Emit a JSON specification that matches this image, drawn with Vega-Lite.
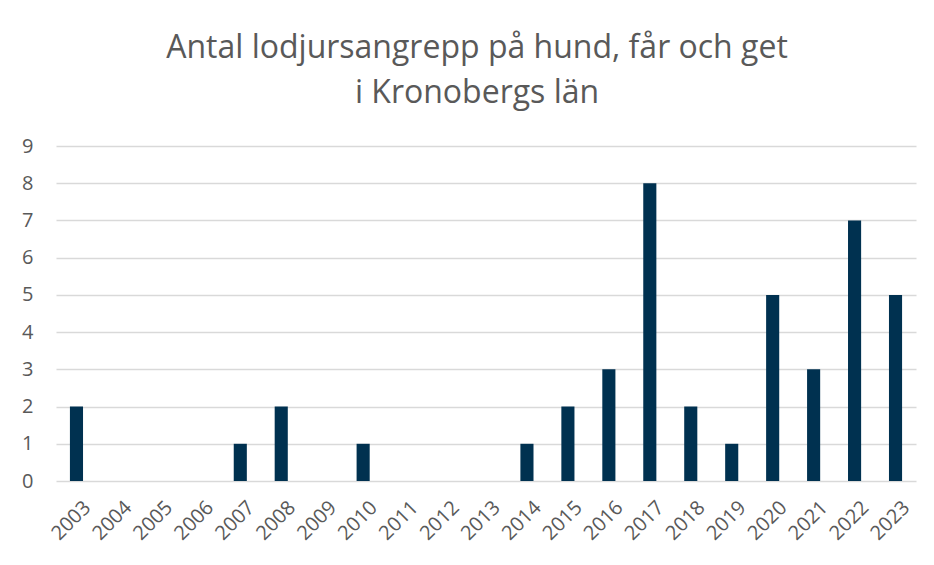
{
  "$schema": "https://vega.github.io/schema/vega-lite/v6.json",
  "width": 860,
  "height": 335,
  "autosize": {"type": "none"},
  "padding": {"left": 56, "top": 146, "right": 18, "bottom": 84},
  "background": "white",
  "title": {
    "text": ["Antal lodjursangrepp på hund, får och get", "i Kronobergs län"],
    "font": "Open Sans",
    "fontSize": 32,
    "fontWeight": "normal",
    "color": "#595959",
    "lineHeight": 45,
    "anchor": "middle",
    "dx": -9,
    "offset": 26
  },
  "data": {
    "values": [
      {"year": "2003", "count": 2},
      {"year": "2004", "count": 0},
      {"year": "2005", "count": 0},
      {"year": "2006", "count": 0},
      {"year": "2007", "count": 1},
      {"year": "2008", "count": 2},
      {"year": "2009", "count": 0},
      {"year": "2010", "count": 1},
      {"year": "2011", "count": 0},
      {"year": "2012", "count": 0},
      {"year": "2013", "count": 0},
      {"year": "2014", "count": 1},
      {"year": "2015", "count": 2},
      {"year": "2016", "count": 3},
      {"year": "2017", "count": 8},
      {"year": "2018", "count": 2},
      {"year": "2019", "count": 1},
      {"year": "2020", "count": 5},
      {"year": "2021", "count": 3},
      {"year": "2022", "count": 7},
      {"year": "2023", "count": 5}
    ]
  },
  "mark": {"type": "bar", "color": "#003150"},
  "encoding": {
    "x": {
      "field": "year",
      "type": "ordinal",
      "scale": {"paddingInner": 0.68, "paddingOuter": 0.34},
      "axis": {
        "title": null,
        "labelAngle": -45,
        "labelFont": "Open Sans",
        "labelFontSize": 20,
        "labelColor": "#595959",
        "labelPadding": 16,
        "labelOffset": 4,
        "ticks": false,
        "domain": false
      }
    },
    "y": {
      "field": "count",
      "type": "quantitative",
      "scale": {"domain": [0, 9], "nice": false},
      "axis": {
        "title": null,
        "values": [0, 1, 2, 3, 4, 5, 6, 7, 8, 9],
        "labelFont": "Open Sans",
        "labelFontSize": 20,
        "labelColor": "#595959",
        "labelPadding": 23,
        "ticks": false,
        "domain": false,
        "grid": true,
        "gridColor": "#d9d9d9",
        "gridWidth": 1.5
      }
    }
  },
  "config": {"view": {"stroke": null}}
}
